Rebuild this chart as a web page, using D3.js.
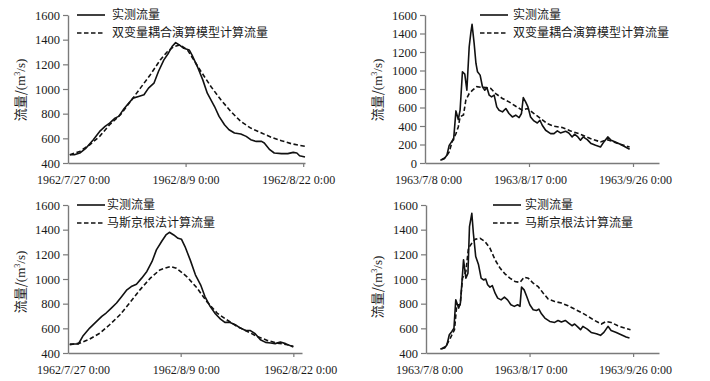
<!DOCTYPE html>
<html><head><meta charset="utf-8">
<script src="https://cdn.jsdelivr.net/npm/d3@7"></script>
<style>
body{margin:0;background:#fff;}
svg{display:block;}
text{font-family:"Liberation Serif","Times New Roman","Noto Sans CJK SC",serif;fill:#1a1a1a;}
.cjk{font-family:"Noto Sans CJK SC","Liberation Serif",serif;}
</style></head>
<body>
<script>
// ---------- DATA ----------
const legendObserved = "实测流量";
const legendCoupled = "双变量耦合演算模型计算流量";
const legendMuskingum = "马斯京根法计算流量";
const yLabelMain = "流量/(m";
const yLabelSup = "3";
const yLabelEnd = "/s)";

const xTicks1962 = [0, 13, 26];
const xLabels1962 = ["1962/7/27 0:00", "1962/8/9 0:00", "1962/8/22 0:00"];
const xTicks1963 = [0, 40, 80];
const xLabels1963 = ["1963/7/8 0:00", "1963/8/17 0:00", "1963/9/26 0:00"];
const yTicksA = [400, 600, 800, 1000, 1200, 1400, 1600];
const yTicksB = [0, 200, 400, 600, 800, 1000, 1200, 1400, 1600];

// 1962 flood, observed (days since 1962/7/27, m3/s)
const obsDays1962a = [0.2,0.7,1.3,2.0,2.8,3.5,4.1,4.6,5.2,5.6,6.1,6.7,7.2,7.8,8.4,8.9,9.5,10.0,10.6,11.1,11.5,11.9,12.3,12.8,13.4,13.7,14.3,14.9,15.4,16.2,16.7,17.3,17.8,18.4,19.1,19.7,20.2,20.8,21.4,21.7,22.3,22.8,23.6,24.3,24.9,25.3,25.6,26.2];
const obsQ1962a = [467,467,481,521,589,656,697,724,764,778,831,885,926,939,953,1007,1047,1142,1236,1290,1344,1376,1357,1330,1317,1277,1182,1074,966,858,778,710,670,643,635,616,589,575,575,562,508,481,476,476,486,481,459,449];
// 1962 flood, coupled model
const simDays1962a = [0.2,1.3,2.4,3.5,4.6,5.8,6.9,8.0,9.1,10.2,11.0,11.7,12.4,13.2,13.9,14.7,15.8,16.9,18.0,19.1,20.2,21.4,22.5,23.6,24.7,26.2];
const simQ1962a = [467,494,548,616,710,791,899,1007,1115,1236,1304,1344,1357,1317,1236,1142,1020,912,818,737,683,643,608,581,556,535];

// 1962 flood (lower panel), observed
const obsDays1962b = [0.2,1.2,1.7,2.5,3.3,3.9,4.4,5.0,5.6,6.2,6.8,7.3,7.9,8.5,9.1,9.7,10.2,10.8,11.3,11.7,12.2,12.7,13.1,13.5,14.1,14.7,15.3,15.8,16.4,17.0,17.6,18.1,18.7,19.3,19.9,20.5,21.0,21.6,22.2,22.8,23.4,23.9,24.5,25.1,26.0];
const obsQ1962b = [473,473,535,602,656,697,724,764,805,858,912,939,958,1007,1061,1142,1236,1304,1357,1379,1357,1330,1322,1263,1155,1034,953,858,778,718,675,648,648,629,602,583,583,556,508,486,481,476,489,476,449];
// 1962 flood, Muskingum
const simDays1962b = [0.2,1.4,2.5,3.7,4.8,6.0,7.1,8.3,9.5,10.6,11.8,12.5,13.7,14.9,16.0,17.2,18.3,19.5,20.7,21.8,23.0,24.1,25.3,26.0];
const simQ1962b = [467,481,513,562,629,710,805,912,1007,1074,1101,1088,1020,926,818,724,670,616,575,535,502,481,467,454];

// 1963 flood, observed (days since 1963/7/8)
const obsDays1963a = [5.9,7.4,8.4,9.3,10.2,11.0,11.9,12.8,13.5,14.4,15.3,16.1,17.0,17.6,18.1,18.9,19.6,20.2,21.2,22.1,23.0,23.8,24.7,25.6,26.6,27.6,28.5,29.8,31.1,32.3,33.6,34.9,36.2,37.1,37.8,38.7,39.6,40.6,41.9,43.2,44.2,45.1,46.4,48.3,49.6,50.9,52.1,54.1,55.3,56.6,57.5,58.8,59.8,60.8,62.4,63.9,65.6,67.5,68.8,70.3,71.6,73.2,75.1,77.1,78.7];
const obsQ1963a = [29,47,83,191,228,253,563,470,571,986,961,787,1257,1401,1500,1293,1076,986,950,824,787,816,733,715,733,607,571,553,589,535,498,517,491,535,708,661,607,498,455,433,462,408,354,318,318,347,325,343,325,282,311,282,246,282,253,210,191,173,228,282,246,228,202,173,148];
// 1963 flood, coupled model
const simDays1963a = [6.4,8.1,9.3,10.6,11.9,12.8,13.5,14.8,15.7,17.0,18.3,19.9,21.5,23.4,25.3,27.2,29.8,32.3,34.9,37.4,39.4,41.9,44.5,47.0,49.6,52.8,56.0,59.8,63.6,67.5,70.0,72.6,75.1,78.7];
const simQ1963a = [36,65,119,246,318,390,500,520,679,751,787,825,818,816,805,751,697,661,614,571,589,535,480,426,397,383,347,311,264,228,253,228,202,173];

// 1963 flood (lower panel), observed
const obsDays1963b = [5.5,7.2,8.1,9.0,10.0,10.8,11.5,12.6,13.3,14.5,15.4,16.2,16.8,17.7,18.3,19.2,20.3,21.3,22.2,23.1,23.8,24.7,25.6,26.7,27.7,29.0,30.3,31.5,32.8,34.1,35.4,36.3,36.9,37.9,38.8,40.1,41.4,42.7,43.6,44.6,45.9,47.8,49.7,51.0,52.3,53.8,55.1,56.4,57.4,58.7,59.7,60.6,62.3,63.8,65.8,67.4,68.7,70.3,71.5,73.5,75.4,77.3,78.6];
const obsQ1963b = [432,440,467,548,575,602,832,764,805,1155,1007,1047,1425,1533,1371,1182,1115,1007,993,999,953,934,947,885,845,831,853,831,791,778,791,778,934,912,864,791,751,745,756,718,683,656,648,664,651,664,643,621,635,610,589,616,594,567,556,543,567,616,583,567,548,529,521];
// 1963 flood, Muskingum
const simDays1963b = [5.9,7.7,9.4,11.0,11.9,13.2,14.1,15.4,16.4,17.7,19.0,20.9,22.8,24.7,26.7,28.6,30.5,32.4,34.4,36.3,37.9,39.5,41.4,43.3,45.3,47.2,49.7,52.3,54.9,57.4,60.0,62.6,65.1,67.7,69.6,71.5,74.1,76.7,79.0];
const simQ1963b = [432,454,521,589,791,791,1007,1061,1250,1290,1322,1330,1304,1250,1155,1088,1042,1007,980,972,1015,1007,966,939,885,837,818,805,783,756,729,697,664,635,656,648,621,602,589];

// ---------- LAYOUT ----------
const panels = [
  {x0:68, x1:305, yTop:15, yBot:163, xDom:[0,26.2], yDom:[400,1600], yTicks:yTicksA, xTicks:xTicks1962, xLabels:xLabels1962, xLabelShift:[5,0,-5],
   obsX:obsDays1962a, obsY:obsQ1962a, simX:simDays1962a, simY:simQ1962a, simName:legendCoupled, legX:77, legTextX:112, legY:15, ylabX:25, ylabY:90},
  {x0:425, x1:659, yTop:15, yBot:163, xDom:[0,90], yDom:[0,1600], yTicks:yTicksB, xTicks:xTicks1963, xLabels:xLabels1963, xLabelShift:[3,1,2],
   obsX:obsDays1963a, obsY:obsQ1963a, simX:simDays1963a, simY:simQ1963a, simName:legendCoupled, legX:480, legTextX:513, legY:15, ylabX:382, ylabY:90},
  {x0:68, x1:302, yTop:205, yBot:353, xDom:[0,27], yDom:[400,1600], yTicks:yTicksA, xTicks:xTicks1962, xLabels:xLabels1962, xLabelShift:[5,5,7],
   obsX:obsDays1962b, obsY:obsQ1962b, simX:simDays1962b, simY:simQ1962b, simName:legendMuskingum, legX:77, legTextX:107, legY:205, ylabX:25, ylabY:282},
  {x0:426, x1:659, yTop:205, yBot:353, xDom:[0,90], yDom:[400,1600], yTicks:yTicksA, xTicks:xTicks1963, xLabels:xLabels1963, xLabelShift:[3,1,2],
   obsX:obsDays1963b, obsY:obsQ1963b, simX:simDays1963b, simY:simQ1963b, simName:legendMuskingum, legX:493, legTextX:525, legY:205, ylabX:382, ylabY:287}
];

const svg = d3.select("body").append("svg").attr("width",710).attr("height",381);
const axisColor = "#7a7a7a";
const lineColor = "#111";
const legFont = 12;
const legGap = 18;

panels.forEach(p => {
  const x = d3.scaleLinear().domain(p.xDom).range([p.x0, p.x1]);
  const y = d3.scaleLinear().domain(p.yDom).range([p.yBot, p.yTop]);
  const g = svg.append("g");

  // y axis
  const ya = g.append("g").attr("transform",`translate(${p.x0},0)`)
    .call(d3.axisLeft(y).tickValues(p.yTicks).tickFormat(d3.format("d")).tickSize(5).tickSizeOuter(0).tickPadding(3));
  // x axis
  const xa = g.append("g").attr("transform",`translate(0,${p.yBot})`)
    .call(d3.axisBottom(x).tickValues(p.xTicks).tickFormat((d,i)=>p.xLabels[i]).tickSize(4).tickSizeOuter(0).tickPadding(8));
  [ya, xa].forEach(a => {
    a.select(".domain").attr("stroke",axisColor).attr("stroke-width",1.4);
    a.selectAll(".tick line").attr("stroke",axisColor).attr("stroke-width",1.2);
    a.selectAll("text").attr("fill","#1a1a1a").style("font-family",'"Liberation Serif",serif');
  });
  ya.selectAll("text").style("font-size","12.5px");
  xa.selectAll("text").style("font-size","12px").attr("dx",(d,i)=>p.xLabelShift[i]);
  xa.selectAll(".tick").filter(d=>d===0).select("line").remove();

  // y label
  const yl = g.append("text")
    .attr("transform",`translate(${p.ylabX},${p.ylabY}) rotate(-90)`)
    .attr("text-anchor","middle")
    .style("font-size","13px");
  yl.append("tspan").attr("class","cjk").text(yLabelMain.slice(0,3));
  yl.append("tspan").style("font-family",'"Liberation Serif",serif').text(yLabelMain.slice(3));
  yl.append("tspan").style("font-family",'"Liberation Serif",serif').style("font-size","8px").attr("dy",-5).text(yLabelSup);
  yl.append("tspan").style("font-family",'"Liberation Serif",serif').attr("dy",5).text(yLabelEnd);

  // lines
  const line = d3.line().x(d=>x(d[0])).y(d=>y(d[1]));
  g.append("path").datum(d3.zip(p.simX,p.simY)).attr("d",line)
    .attr("fill","none").attr("stroke",lineColor).attr("stroke-width",1.6).attr("stroke-dasharray","4.5,2.5");
  g.append("path").datum(d3.zip(p.obsX,p.obsY)).attr("d",line)
    .attr("fill","none").attr("stroke",lineColor).attr("stroke-width",1.6).attr("stroke-linejoin","round");

  // legend
  const lg = g.append("g");
  lg.append("line").attr("x1",p.legX).attr("x2",p.legX+28).attr("y1",p.legY).attr("y2",p.legY)
    .attr("stroke",lineColor).attr("stroke-width",1.6);
  lg.append("text").attr("class","cjk").attr("x",p.legTextX).attr("y",p.legY+4.2).style("font-size",legFont+"px").text(legendObserved);
  lg.append("line").attr("x1",p.legX).attr("x2",p.legX+28).attr("y1",p.legY+legGap).attr("y2",p.legY+legGap)
    .attr("stroke",lineColor).attr("stroke-width",1.6).attr("stroke-dasharray","4.5,2.5");
  lg.append("text").attr("class","cjk").attr("x",p.legTextX).attr("y",p.legY+legGap+4.2).style("font-size",legFont+"px").text(p.simName);
});
</script>
</body></html>
